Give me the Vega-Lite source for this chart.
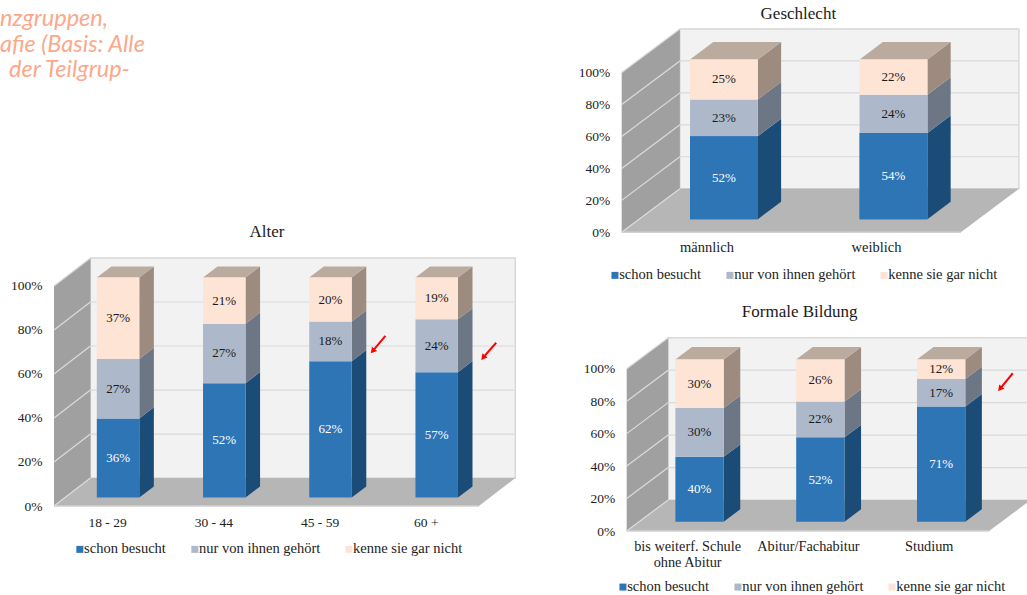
{
"$schema":"https://vega.github.io/schema/vega-lite/v6.json",
"padding":{"left":0,"top":5,"right":0,"bottom":0},
"background":"white",
"autosize":{"type":"pad"},
"config":{"view":{"stroke":null},
"axis":{"labelFont":"Liberation Serif","labelFontSize":13.5,"labelColor":"#222222","labelOverlap":false,"labelFlush":false,"labelBound":false},
"legend":{"symbolType":"square","symbolSize":49,"symbolStrokeWidth":0,"labelFont":"Liberation Serif","labelFontSize":14.5,"labelColor":"#222222","columnPadding":21,"labelOffset":-3,"padding":0,"labelLimit":200},
"title":{"font":"Liberation Serif","fontSize":17,"fontWeight":"normal","color":"#1a1a1a"},
"text":{"font":"Liberation Serif"}},
"datasets":{
"balken":[
{"panel":"Alter","gruppe":"18 - 29","serie":"schon besucht","wert":36},
{"panel":"Alter","gruppe":"18 - 29","serie":"nur von ihnen gehört","wert":27},
{"panel":"Alter","gruppe":"18 - 29","serie":"kenne sie gar nicht","wert":37},
{"panel":"Alter","gruppe":"30 - 44","serie":"schon besucht","wert":52},
{"panel":"Alter","gruppe":"30 - 44","serie":"nur von ihnen gehört","wert":27},
{"panel":"Alter","gruppe":"30 - 44","serie":"kenne sie gar nicht","wert":21},
{"panel":"Alter","gruppe":"45 - 59","serie":"schon besucht","wert":62},
{"panel":"Alter","gruppe":"45 - 59","serie":"nur von ihnen gehört","wert":18},
{"panel":"Alter","gruppe":"45 - 59","serie":"kenne sie gar nicht","wert":20},
{"panel":"Alter","gruppe":"60 +","serie":"schon besucht","wert":57},
{"panel":"Alter","gruppe":"60 +","serie":"nur von ihnen gehört","wert":24},
{"panel":"Alter","gruppe":"60 +","serie":"kenne sie gar nicht","wert":19},
{"panel":"Geschlecht","gruppe":"männlich","serie":"schon besucht","wert":52},
{"panel":"Geschlecht","gruppe":"männlich","serie":"nur von ihnen gehört","wert":23},
{"panel":"Geschlecht","gruppe":"männlich","serie":"kenne sie gar nicht","wert":25},
{"panel":"Geschlecht","gruppe":"weiblich","serie":"schon besucht","wert":54},
{"panel":"Geschlecht","gruppe":"weiblich","serie":"nur von ihnen gehört","wert":24},
{"panel":"Geschlecht","gruppe":"weiblich","serie":"kenne sie gar nicht","wert":22},
{"panel":"Bildung","gruppe":"Schule","serie":"schon besucht","wert":40},
{"panel":"Bildung","gruppe":"Schule","serie":"nur von ihnen gehört","wert":30},
{"panel":"Bildung","gruppe":"Schule","serie":"kenne sie gar nicht","wert":30},
{"panel":"Bildung","gruppe":"Abitur","serie":"schon besucht","wert":52},
{"panel":"Bildung","gruppe":"Abitur","serie":"nur von ihnen gehört","wert":22},
{"panel":"Bildung","gruppe":"Abitur","serie":"kenne sie gar nicht","wert":26},
{"panel":"Bildung","gruppe":"Studium","serie":"schon besucht","wert":71},
{"panel":"Bildung","gruppe":"Studium","serie":"nur von ihnen gehört","wert":17},
{"panel":"Bildung","gruppe":"Studium","serie":"kenne sie gar nicht","wert":12}
],
"kanten":[{"kante":0},{"kante":1}],
"raster":[{"v":0},{"v":20},{"v":40},{"v":60},{"v":80},{"v":100}],
"wand":[{"teil":"rueckwand"}],
"pfeile":[
{"panel":"Alter","x0":2.62,"y0":77.3,"x1":2.5,"y1":70.4},
{"panel":"Alter","x0":3.663,"y0":74.2,"x1":3.54,"y1":67.4},
{"panel":"Bildung","x0":2.696,"y0":97.2,"x1":2.59,"y1":87.6}
]
},
"spacing":59.7,
"resolve":{"legend":{"color":"independent"}},
"hconcat":[
{"spacing":119,"resolve":{"legend":{"color":"independent"}},"vconcat":[
{"width":150,"height":75,"data":{"values":[{"t":1}]},
 "layer":[
 {"mark":{"type":"text","text":["nzgruppen,","afie (Basis: Alle"],"font":"Lato","fontStyle":"italic","fontSize":23.5,"lineHeight":25.5,"color":"#fba98a","align":"left","baseline":"top"},"encoding":{"x":{"value":-54},"y":{"value":-22}}},
 {"mark":{"type":"text","text":"der Teilgrup-","font":"Lato","fontStyle":"italic","fontSize":23.5,"color":"#fba98a","align":"left","baseline":"top"},"encoding":{"x":{"value":-45},"y":{"value":29}}}
 ]},
{"width":461.3,"height":248,
 "title":{"text":"Alter","dx":-17.6,"offset":16},
 "data":{"name":"balken"},
 "transform":[{"filter":"datum.panel=='Alter'"},
  {"stack":"wert","groupby":["gruppe"],"sort":[{"field":"serie","order":"descending"}],"as":["u","o"]},
  {"calculate":"indexof(['18 - 29','30 - 44','45 - 59','60 +'],datum.gruppe)","as":"i"},
  {"calculate":"datum.i+0.103","as":"xm"},{"calculate":"datum.xm-0.2","as":"xv"},{"calculate":"datum.xm+0.2","as":"xh"},
  {"calculate":"datum.u+0.3*12.7","as":"yu"},{"calculate":"datum.o+0.3*12.7","as":"yo"}],
 "layer":[
  {"data":{"name":"wand"},"mark":{"type":"rect","fill":"#f2f2f2","stroke":"#d2d2d2","strokeWidth":1.2},
   "encoding":{"x":{"datum":-0.157,"type":"quantitative","scale":{"domain":[-0.5,3.843],"nice":false,"zero":false},"axis":{"title":null,"domain":false,"ticks":false,"grid":false,"labelOverlap":false,"values":[0,1,2,3],"labelExpr":"['18 - 29','30 - 44','45 - 59','60 +'][datum.value]","labelPadding":9,"labelBaseline":"top"}},"x2":{"datum":3.843},
   "y":{"datum":12.7,"type":"quantitative","scale":{"domain":[0,112.7],"nice":false,"zero":false},"axis":{"title":null,"domain":false,"ticks":false,"grid":false,"labelOverlap":false,"values":[0,20,40,60,80,100],"labelExpr":"datum.value+'%'","labelPadding":12,"minExtent":54}},"y2":{"datum":112.7}}},
  {"data":{"name":"kanten"},"transform":[{"calculate":"-0.5+datum.kante*0.343","as":"x"},{"calculate":"datum.kante*12.7","as":"y"},{"calculate":"100+datum.kante*12.7","as":"y2"}],
   "mark":{"type":"area","orient":"vertical","color":"#a0a0a0"},"encoding":{"x":{"field":"x","type":"quantitative"},"y":{"field":"y","type":"quantitative"},"y2":{"field":"y2"}}},
  {"data":{"name":"kanten"},"transform":[{"calculate":"-0.5+datum.kante*0.343","as":"x"},{"calculate":"3.5+datum.kante*0.343","as":"x2"},{"calculate":"datum.kante*12.7","as":"y"}],
   "mark":{"type":"area","orient":"horizontal","color":"#b6b6b6"},"encoding":{"y":{"field":"y","type":"quantitative"},"x":{"field":"x","type":"quantitative"},"x2":{"field":"x2"}}},
  {"data":{"name":"raster"},"transform":[{"filter":"datum.v>0"},{"calculate":"datum.v+12.7","as":"y"}],"mark":{"type":"rule","color":"#d9d9d9","strokeWidth":1.2},
   "encoding":{"x":{"datum":-0.157,"type":"quantitative"},"x2":{"datum":3.843},"y":{"field":"y","type":"quantitative"}}},
  {"data":{"name":"raster"},"transform":[{"calculate":"datum.v+12.7","as":"y2"}],"mark":{"type":"rule","color":"#dcdcdc","strokeWidth":1.2},
   "encoding":{"x":{"datum":-0.5,"type":"quantitative"},"x2":{"datum":-0.157},"y":{"field":"v","type":"quantitative"},"y2":{"field":"y2"}}},
  {"data":{"name":"wand"},"mark":{"type":"rule","color":"#d2d2d2","strokeWidth":1.5},
   "encoding":{"x":{"datum":-0.5,"type":"quantitative"},"x2":{"datum":3.5},"y":{"datum":0,"type":"quantitative"}}},
  {"transform":[{"calculate":"[0,1]","as":"kante"},{"flatten":["kante"]},{"calculate":"datum.xh+datum.kante*0.137","as":"sx"},{"calculate":"datum.yu+datum.kante*0.4*12.7","as":"sy"},{"calculate":"datum.yo+datum.kante*0.4*12.7","as":"sy2"}],
   "mark":{"type":"area","orient":"vertical"},
   "encoding":{"x":{"field":"sx","type":"quantitative"},"y":{"field":"sy","type":"quantitative"},"y2":{"field":"sy2"},"detail":{"field":"gruppe"},
   "fill":{"field":"serie","type":"nominal","legend":null,"scale":{"domain":["kenne sie gar nicht","nur von ihnen gehört","schon besucht"],"range":["#9d8b80","#6c7685","#1b4b77"]}}}},
  {"transform":[{"filter":"datum.serie=='kenne sie gar nicht'"},{"calculate":"[0,1]","as":"kante"},{"flatten":["kante"]},{"calculate":"datum.xv+datum.kante*0.137","as":"tx"},{"calculate":"datum.xh+datum.kante*0.137","as":"tx2"},{"calculate":"datum.yo+datum.kante*0.4*12.7","as":"ty"}],
   "mark":{"type":"area","orient":"horizontal","color":"#bbaa9e"},
   "encoding":{"y":{"field":"ty","type":"quantitative"},"x":{"field":"tx","type":"quantitative"},"x2":{"field":"tx2"},"detail":{"field":"gruppe"}}},
  {"mark":{"type":"rect"},
   "encoding":{"x":{"field":"xv","type":"quantitative"},"x2":{"field":"xh"},"y":{"field":"yu","type":"quantitative"},"y2":{"field":"yo"},
   "color":{"field":"serie","type":"nominal","scale":{"domain":["schon besucht","nur von ihnen gehört","kenne sie gar nicht"],"range":["#2e75b6","#adb9ca","#fde4d5"]},"legend":{"title":null,"orient":"none","direction":"horizontal","legendX":18.6,"legendY":284}}}},
  {"transform":[{"calculate":"datum.wert+'%'","as":"bez"},{"calculate":"(datum.yu+datum.yo)/2","as":"ym"}],
   "mark":{"type":"text","fontSize":13,"align":"center","baseline":"middle"},
   "encoding":{"x":{"field":"xm","type":"quantitative"},"y":{"field":"ym","type":"quantitative"},"text":{"field":"bez"},"color":{"condition":{"test":"datum.serie=='schon besucht'","value":"#ffffff"},"value":"#1a1a1a"}}},
  {"data":{"name":"pfeile"},"transform":[{"filter":"datum.panel=='Alter'"}],"mark":{"type":"rule","color":"#ff0000","strokeWidth":2},
   "encoding":{"x":{"field":"x0","type":"quantitative"},"x2":{"field":"x1"},"y":{"field":"y0","type":"quantitative"},"y2":{"field":"y1"}}},
  {"data":{"name":"pfeile"},"transform":[{"filter":"datum.panel=='Alter'"}],"mark":{"type":"point","shape":"triangle-up","filled":true,"color":"#ff0000","opacity":1,"size":45,"angle":220},
   "encoding":{"x":{"field":"x1","type":"quantitative"},"y":{"field":"y1","type":"quantitative"}}}
 ]}
]},
{"spacing":20.7,"resolve":{"legend":{"color":"independent"}},"vconcat":[
{"width":397.3,"height":203.3,
 "title":{"text":"Geschlecht","dx":-22,"offset":5},
 "data":{"name":"balken"},
 "transform":[{"filter":"datum.panel=='Geschlecht'"},
  {"stack":"wert","groupby":["gruppe"],"sort":[{"field":"serie","order":"descending"}],"as":["u","o"]},
  {"calculate":"indexof(['männlich','weiblich'],datum.gruppe)","as":"i"},
  {"calculate":"datum.i+0.103","as":"xm"},{"calculate":"datum.xm-0.2","as":"xv"},{"calculate":"datum.xm+0.2","as":"xh"},
  {"calculate":"datum.u+0.3*27.3","as":"yu"},{"calculate":"datum.o+0.3*27.3","as":"yo"}],
 "layer":[
  {"data":{"name":"wand"},"mark":{"type":"rect","fill":"#f2f2f2","stroke":"#d2d2d2","strokeWidth":1.2},
   "encoding":{"x":{"datum":-0.157,"type":"quantitative","scale":{"domain":[-0.5,1.843],"nice":false,"zero":false},"axis":{"title":null,"domain":false,"ticks":false,"grid":false,"labelOverlap":false,"values":[0,1],"labelExpr":"['männlich','weiblich'][datum.value]","labelPadding":8,"labelBaseline":"top","labelFontSize":14.5}},"x2":{"datum":1.843},
   "y":{"datum":27.3,"type":"quantitative","scale":{"domain":[0,127.3],"nice":false,"zero":false},"axis":{"title":null,"domain":false,"ticks":false,"grid":false,"labelOverlap":false,"values":[0,20,40,60,80,100],"labelExpr":"datum.value+'%'","labelPadding":12,"minExtent":46}},"y2":{"datum":127.3}}},
  {"data":{"name":"kanten"},"transform":[{"calculate":"-0.5+datum.kante*0.343","as":"x"},{"calculate":"datum.kante*27.3","as":"y"},{"calculate":"100+datum.kante*27.3","as":"y2"}],
   "mark":{"type":"area","orient":"vertical","color":"#a0a0a0"},"encoding":{"x":{"field":"x","type":"quantitative"},"y":{"field":"y","type":"quantitative"},"y2":{"field":"y2"}}},
  {"data":{"name":"kanten"},"transform":[{"calculate":"-0.5+datum.kante*0.343","as":"x"},{"calculate":"1.5+datum.kante*0.343","as":"x2"},{"calculate":"datum.kante*27.3","as":"y"}],
   "mark":{"type":"area","orient":"horizontal","color":"#b6b6b6"},"encoding":{"y":{"field":"y","type":"quantitative"},"x":{"field":"x","type":"quantitative"},"x2":{"field":"x2"}}},
  {"data":{"name":"raster"},"transform":[{"filter":"datum.v>0"},{"calculate":"datum.v+27.3","as":"y"}],"mark":{"type":"rule","color":"#d9d9d9","strokeWidth":1.2},
   "encoding":{"x":{"datum":-0.157,"type":"quantitative"},"x2":{"datum":1.843},"y":{"field":"y","type":"quantitative"}}},
  {"data":{"name":"raster"},"transform":[{"calculate":"datum.v+27.3","as":"y2"}],"mark":{"type":"rule","color":"#dcdcdc","strokeWidth":1.2},
   "encoding":{"x":{"datum":-0.5,"type":"quantitative"},"x2":{"datum":-0.157},"y":{"field":"v","type":"quantitative"},"y2":{"field":"y2"}}},
  {"data":{"name":"wand"},"mark":{"type":"rule","color":"#d2d2d2","strokeWidth":1.5},
   "encoding":{"x":{"datum":-0.5,"type":"quantitative"},"x2":{"datum":1.5},"y":{"datum":0,"type":"quantitative"}}},
  {"transform":[{"calculate":"[0,1]","as":"kante"},{"flatten":["kante"]},{"calculate":"datum.xh+datum.kante*0.137","as":"sx"},{"calculate":"datum.yu+datum.kante*0.4*27.3","as":"sy"},{"calculate":"datum.yo+datum.kante*0.4*27.3","as":"sy2"}],
   "mark":{"type":"area","orient":"vertical"},
   "encoding":{"x":{"field":"sx","type":"quantitative"},"y":{"field":"sy","type":"quantitative"},"y2":{"field":"sy2"},"detail":{"field":"gruppe"},
   "fill":{"field":"serie","type":"nominal","legend":null,"scale":{"domain":["kenne sie gar nicht","nur von ihnen gehört","schon besucht"],"range":["#9d8b80","#6c7685","#1b4b77"]}}}},
  {"transform":[{"filter":"datum.serie=='kenne sie gar nicht'"},{"calculate":"[0,1]","as":"kante"},{"flatten":["kante"]},{"calculate":"datum.xv+datum.kante*0.137","as":"tx"},{"calculate":"datum.xh+datum.kante*0.137","as":"tx2"},{"calculate":"datum.yo+datum.kante*0.4*27.3","as":"ty"}],
   "mark":{"type":"area","orient":"horizontal","color":"#bbaa9e"},
   "encoding":{"y":{"field":"ty","type":"quantitative"},"x":{"field":"tx","type":"quantitative"},"x2":{"field":"tx2"},"detail":{"field":"gruppe"}}},
  {"mark":{"type":"rect"},
   "encoding":{"x":{"field":"xv","type":"quantitative"},"x2":{"field":"xh"},"y":{"field":"yu","type":"quantitative"},"y2":{"field":"yo"},
   "color":{"field":"serie","type":"nominal","scale":{"domain":["schon besucht","nur von ihnen gehört","kenne sie gar nicht"],"range":["#5b9bd5","#adb9ca","#fde4d5"]},"legend":{"title":null,"orient":"none","direction":"horizontal","legendX":-14,"legendY":239}}}},
  {"mark":{"type":"rect","fill":"#2e75b6"},"transform":[{"filter":"datum.serie=='schon besucht'"}],
   "encoding":{"x":{"field":"xv","type":"quantitative"},"x2":{"field":"xh"},"y":{"field":"yu","type":"quantitative"},"y2":{"field":"yo"}}},
  {"transform":[{"calculate":"datum.wert+'%'","as":"bez"},{"calculate":"(datum.yu+datum.yo)/2","as":"ym"}],
   "mark":{"type":"text","fontSize":13,"align":"center","baseline":"middle"},
   "encoding":{"x":{"field":"xm","type":"quantitative"},"y":{"field":"ym","type":"quantitative"},"text":{"field":"bez"},"color":{"condition":{"test":"datum.serie=='schon besucht'","value":"#ffffff"},"value":"#1a1a1a"}}}
 ]},
{"width":406,"height":193.3,
 "title":{"text":"Formale Bildung","dx":-25,"offset":16},
 "data":{"name":"balken"},
 "transform":[{"filter":"datum.panel=='Bildung'"},
  {"stack":"wert","groupby":["gruppe"],"sort":[{"field":"serie","order":"descending"}],"as":["u","o"]},
  {"calculate":"indexof(['Schule','Abitur','Studium'],datum.gruppe)","as":"i"},
  {"calculate":"datum.i+0.103","as":"xm"},{"calculate":"datum.xm-0.2","as":"xv"},{"calculate":"datum.xm+0.2","as":"xh"},
  {"calculate":"datum.u+0.3*19.1","as":"yu"},{"calculate":"datum.o+0.3*19.1","as":"yo"}],
 "layer":[
  {"data":{"name":"wand"},"mark":{"type":"rect","fill":"#f2f2f2","stroke":"#d2d2d2","strokeWidth":1.2},
   "encoding":{"x":{"datum":-0.157,"type":"quantitative","scale":{"domain":[-0.5414,2.8195],"nice":false,"zero":false},"axis":{"title":null,"domain":false,"ticks":false,"grid":false,"labelOverlap":false,"values":[0,1,2],"labelExpr":"[['bis weiterf. Schule','ohne Abitur'],'Abitur/Fachabitur','Studium'][datum.value]","labelPadding":8,"labelBaseline":"top","labelFontSize":14.3}},"x2":{"datum":2.8195},
   "y":{"datum":19.1,"type":"quantitative","scale":{"domain":[0,119.1],"nice":false,"zero":false},"axis":{"title":null,"domain":false,"ticks":false,"grid":false,"labelOverlap":false,"tickCount":6,"values":[0,20,40,60,80,100],"labelExpr":"datum.value+'%'","labelPadding":7,"minExtent":46}},"y2":{"datum":119.1}}},
  {"data":{"name":"kanten"},"transform":[{"calculate":"-0.5+datum.kante*0.343","as":"x"},{"calculate":"datum.kante*19.1","as":"y"},{"calculate":"100+datum.kante*19.1","as":"y2"}],
   "mark":{"type":"area","orient":"vertical","color":"#a0a0a0"},"encoding":{"x":{"field":"x","type":"quantitative"},"y":{"field":"y","type":"quantitative"},"y2":{"field":"y2"}}},
  {"data":{"name":"kanten"},"transform":[{"calculate":"-0.5+datum.kante*0.343","as":"x"},{"calculate":"2.5+datum.kante*0.343","as":"x2"},{"calculate":"datum.kante*19.1","as":"y"}],
   "mark":{"type":"area","orient":"horizontal","color":"#b6b6b6","clip":true},"encoding":{"y":{"field":"y","type":"quantitative"},"x":{"field":"x","type":"quantitative"},"x2":{"field":"x2"}}},
  {"data":{"name":"raster"},"transform":[{"filter":"datum.v>0"},{"calculate":"datum.v+19.1","as":"y"}],"mark":{"type":"rule","color":"#d9d9d9","strokeWidth":1.2},
   "encoding":{"x":{"datum":-0.157,"type":"quantitative"},"x2":{"datum":2.8195},"y":{"field":"y","type":"quantitative"}}},
  {"data":{"name":"raster"},"transform":[{"calculate":"datum.v+19.1","as":"y2"}],"mark":{"type":"rule","color":"#dcdcdc","strokeWidth":1.2},
   "encoding":{"x":{"datum":-0.5,"type":"quantitative"},"x2":{"datum":-0.157},"y":{"field":"v","type":"quantitative"},"y2":{"field":"y2"}}},
  {"data":{"name":"wand"},"mark":{"type":"rule","color":"#d2d2d2","strokeWidth":1.5},
   "encoding":{"x":{"datum":-0.5,"type":"quantitative"},"x2":{"datum":2.5},"y":{"datum":0,"type":"quantitative"}}},
  {"transform":[{"calculate":"[0,1]","as":"kante"},{"flatten":["kante"]},{"calculate":"datum.xh+datum.kante*0.137","as":"sx"},{"calculate":"datum.yu+datum.kante*0.4*19.1","as":"sy"},{"calculate":"datum.yo+datum.kante*0.4*19.1","as":"sy2"}],
   "mark":{"type":"area","orient":"vertical"},
   "encoding":{"x":{"field":"sx","type":"quantitative"},"y":{"field":"sy","type":"quantitative"},"y2":{"field":"sy2"},"detail":{"field":"gruppe"},
   "fill":{"field":"serie","type":"nominal","legend":null,"scale":{"domain":["kenne sie gar nicht","nur von ihnen gehört","schon besucht"],"range":["#9d8b80","#6c7685","#1b4b77"]}}}},
  {"transform":[{"filter":"datum.serie=='kenne sie gar nicht'"},{"calculate":"[0,1]","as":"kante"},{"flatten":["kante"]},{"calculate":"datum.xv+datum.kante*0.137","as":"tx"},{"calculate":"datum.xh+datum.kante*0.137","as":"tx2"},{"calculate":"datum.yo+datum.kante*0.4*19.1","as":"ty"}],
   "mark":{"type":"area","orient":"horizontal","color":"#bbaa9e"},
   "encoding":{"y":{"field":"ty","type":"quantitative"},"x":{"field":"tx","type":"quantitative"},"x2":{"field":"tx2"},"detail":{"field":"gruppe"}}},
  {"mark":{"type":"rect"},
   "encoding":{"x":{"field":"xv","type":"quantitative"},"x2":{"field":"xh"},"y":{"field":"yu","type":"quantitative"},"y2":{"field":"yo"},
   "color":{"field":"serie","type":"nominal","scale":{"domain":["schon besucht","nur von ihnen gehört","kenne sie gar nicht"],"range":["#2e75b6","#adb9ca","#fde4d5"]},"legend":{"title":null,"orient":"none","direction":"horizontal","legendX":-6,"legendY":242}}}},
  {"transform":[{"calculate":"datum.wert+'%'","as":"bez"},{"calculate":"(datum.yu+datum.yo)/2","as":"ym"}],
   "mark":{"type":"text","fontSize":13,"align":"center","baseline":"middle"},
   "encoding":{"x":{"field":"xm","type":"quantitative"},"y":{"field":"ym","type":"quantitative"},"text":{"field":"bez"},"color":{"condition":{"test":"datum.serie=='schon besucht'","value":"#ffffff"},"value":"#1a1a1a"}}},
  {"data":{"name":"pfeile"},"transform":[{"filter":"datum.panel=='Bildung'"}],"mark":{"type":"rule","color":"#ff0000","strokeWidth":2},
   "encoding":{"x":{"field":"x0","type":"quantitative"},"x2":{"field":"x1"},"y":{"field":"y0","type":"quantitative"},"y2":{"field":"y1"}}},
  {"data":{"name":"pfeile"},"transform":[{"filter":"datum.panel=='Bildung'"}],"mark":{"type":"point","shape":"triangle-up","filled":true,"color":"#ff0000","opacity":1,"size":45,"angle":220},
   "encoding":{"x":{"field":"x1","type":"quantitative"},"y":{"field":"y1","type":"quantitative"}}}
 ]}
]}
]
}
